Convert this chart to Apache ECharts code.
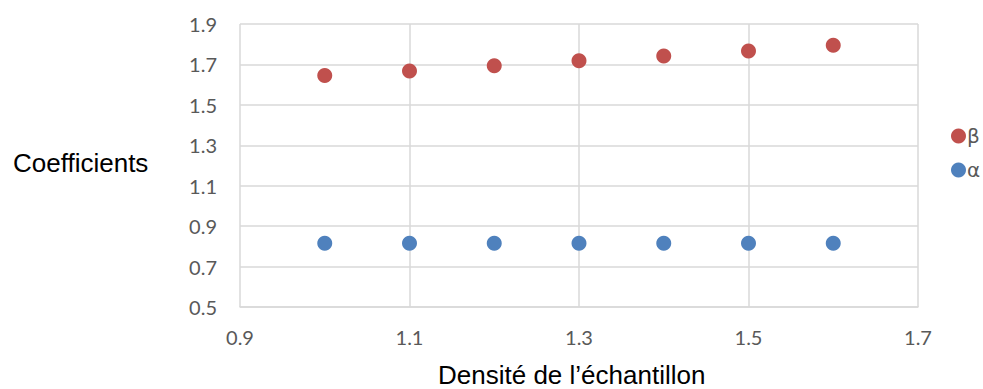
<!DOCTYPE html>
<html><head><meta charset="utf-8">
<script src="https://cdn.jsdelivr.net/npm/echarts@6/dist/echarts.min.js"></script>
<style>html,body{margin:0;padding:0;background:#fff}#c{width:983px;height:389px}</style>
</head><body><div id="c"></div>
<script>
const densite = [1.0, 1.1, 1.2, 1.3, 1.4, 1.5, 1.6];
const beta = [1.645, 1.668, 1.693, 1.718, 1.742, 1.766, 1.795];
const alpha = [0.815, 0.815, 0.815, 0.815, 0.815, 0.815, 0.815];
const seriesNames = ['β', 'α'];
const xTitle = 'Densité de l’échantillon';
const yTitle = 'Coefficients';

const chart = echarts.init(document.getElementById('c'), null, {renderer: 'svg'});
const tickFont = {color: '#595959', fontSize: 20, fontFamily: 'Lato, "Liberation Sans", sans-serif'};
const gridLine = {show: true, lineStyle: {color: '#d9d9d9', width: 1.5}};
chart.setOption({
  animation: false,
  grid: {left: 240, right: 65, top: 24, bottom: 82, containLabel: false},
  legend: {
    orient: 'vertical', left: 946, top: 121, itemGap: 14,
    icon: 'circle', itemWidth: 15, itemHeight: 15,
    textStyle: {color: '#595959', fontSize: 20, fontFamily: '"DejaVu Sans", sans-serif', padding: [0, 0, 0, -4]},
    data: seriesNames
  },
  xAxis: {
    type: 'value', min: 0.9, max: 1.7, interval: 0.2,
    axisLine: {show: true, lineStyle: {color: '#d9d9d9', width: 1.5}},
    axisTick: {show: false},
    axisLabel: Object.assign({margin: 20, formatter: v => v.toFixed(1)}, tickFont),
    splitLine: gridLine
  },
  yAxis: {
    type: 'value', min: 0.5, max: 1.9, interval: 0.2,
    axisLine: {show: false},
    axisTick: {show: false},
    axisLabel: Object.assign({margin: 23, formatter: v => v.toFixed(1)}, tickFont),
    splitLine: gridLine
  },
  graphic: [{
    type: 'text', left: 13, top: 150,
    style: {text: yTitle, fill: '#000', font: '26px "Liberation Sans", Arial, sans-serif'}
  }, {
    type: 'text', left: 438, top: 362,
    style: {text: xTitle, fill: '#000', font: '26px "Liberation Sans", Arial, sans-serif'}
  }],
  series: [
    {name: seriesNames[0], type: 'scatter', symbolSize: 15, itemStyle: {color: '#C0504D', opacity: 1},
     data: densite.map((d, i) => [d, beta[i]])},
    {name: seriesNames[1], type: 'scatter', symbolSize: 15, itemStyle: {color: '#4F81BD', opacity: 1},
     data: densite.map((d, i) => [d, alpha[i]])}
  ]
});
</script></body></html>
